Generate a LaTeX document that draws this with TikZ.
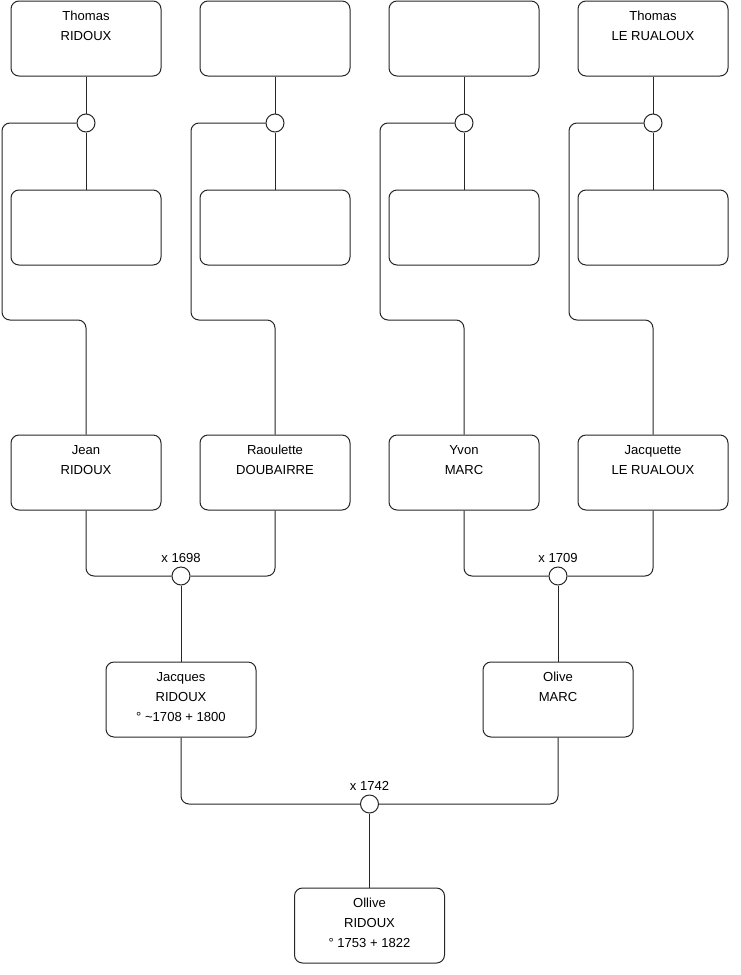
\documentclass[tikz,border=0pt]{standalone}
\usepackage{fontspec}
\setmainfont{Liberation Sans}
\usepackage{tikz}

\newcommand{\who}[1]{\parbox[c][56.25pt][t]{112.5pt}{\centering\rule{0pt}{14.5pt}#1}}

\tikzset{
  person/.style={draw=black!85, line width=0.75pt, rounded corners=6pt, inner sep=0pt},
  union/.style={circle, draw=black!85, line width=0.75pt, fill=white, inner sep=0pt, minimum size=13.5pt},
  link/.style={draw=black!85, line width=0.75pt, rounded corners=6pt}
}

\begin{document}
\begin{tikzpicture}[x=0.75pt,y=-0.75pt,font=\fontsize{9.8pt}{15pt}\selectfont]
\useasboundingbox (0,0) rectangle (740,975);

\node[person] (p1) at (86,38.5) {\who{Thomas\\RIDOUX}};
\node[person] (p2) at (275,38.5) {\who{}};
\node[person] (p3) at (464,38.5) {\who{}};
\node[person] (p4) at (653,38.5) {\who{Thomas\\LE RUALOUX}};
\node[person] (q1) at (86,227.5) {\who{}};
\node[person] (q2) at (275,227.5) {\who{}};
\node[person] (q3) at (464,227.5) {\who{}};
\node[person] (q4) at (653,227.5) {\who{}};
\node[union] (u1) at (86,123) {};
\node[union] (u2) at (275,123) {};
\node[union] (u3) at (464,123) {};
\node[union] (u4) at (653,123) {};

\node[person] (jean) at (86,472.5) {\who{Jean\\RIDOUX}};
\node[person] (raoulette) at (275,472.5) {\who{Raoulette\\DOUBAIRRE}};
\node[person] (yvon) at (464,472.5) {\who{Yvon\\MARC}};
\node[person] (jacquette) at (653,472.5) {\who{Jacquette\\LE RUALOUX}};

\node[union, label={[inner sep=2.5pt]above:x 1698}] (m1) at (181,576) {};
\node[union, label={[inner sep=2.5pt]above:x 1709}] (m2) at (558,576) {};
\node[person] (jacques) at (181,699.5) {\who{Jacques\\RIDOUX\\° \textasciitilde1708 + 1800}};
\node[person] (olive) at (558,699.5) {\who{Olive\\MARC}};

\node[union, label={[inner sep=2.5pt]above:x 1742}] (m3) at (369.5,804) {};
\node[person] (ollive) at (369.5,925.5) {\who{Ollive\\RIDOUX\\° 1753 + 1822}};

\foreach \i in {1,2,3,4} {
  \draw[link] (p\i) -- (u\i) -- (q\i);
}
\draw[link] (u1.west) -- (2,123) -- (2,320) -- (86,320) -- (jean.north);
\draw[link] (u2.west) -- (191,123) -- (191,320) -- (275,320) -- (raoulette.north);
\draw[link] (u3.west) -- (380,123) -- (380,320) -- (464,320) -- (yvon.north);
\draw[link] (u4.west) -- (569,123) -- (569,320) -- (653,320) -- (jacquette.north);

\draw[link] (jean.south) -- (86,576) -- (m1.west);
\draw[link] (raoulette.south) -- (275,576) -- (m1.east);
\draw[link] (m1) -- (jacques);
\draw[link] (yvon.south) -- (464,576) -- (m2.west);
\draw[link] (jacquette.south) -- (653,576) -- (m2.east);
\draw[link] (m2) -- (olive);

\draw[link] (jacques.south) -- (181,804) -- (m3.west);
\draw[link] (olive.south) -- (558,804) -- (m3.east);
\draw[link] (m3) -- (ollive);
\end{tikzpicture}
\end{document}
